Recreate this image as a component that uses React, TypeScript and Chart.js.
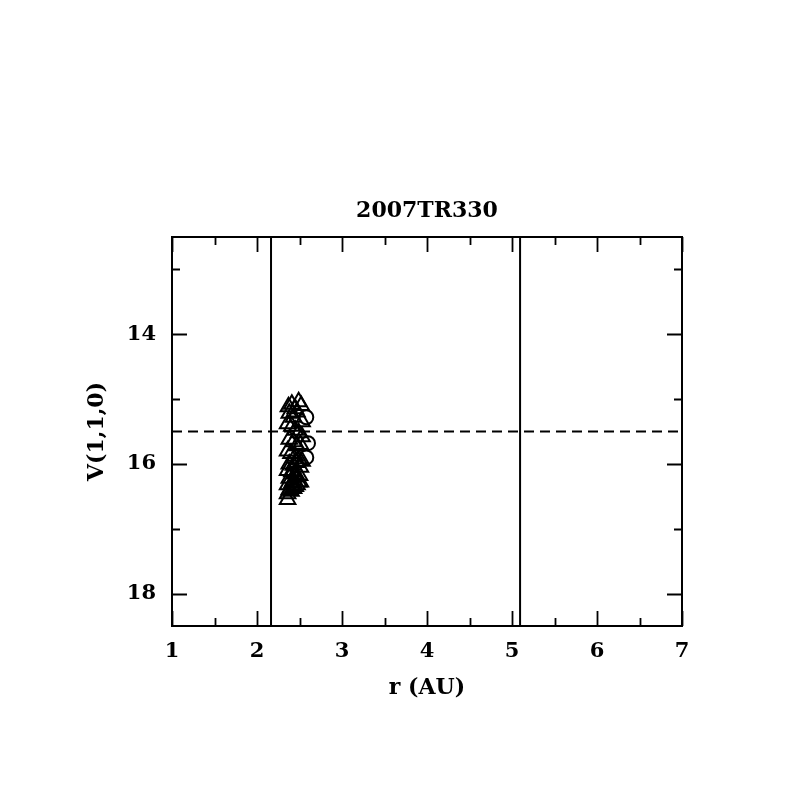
import React, { useEffect, useRef } from "react";
import { Chart, registerables } from "chart.js";

Chart.register(...registerables);

const TITLE = "2007TR330";
const X_TITLE = "r (AU)";
const Y_TITLE = "V(1,1,0)";
const X_MIN = 1;
const X_MAX = 7;
const Y_MIN = 12.5;
const Y_MAX = 18.5;
const X_MAJOR = [1, 2, 3, 4, 5, 6, 7];
const X_MINOR = [1.5, 2.5, 3.5, 4.5, 5.5, 6.5];
const Y_MAJOR = [14, 16, 18];
const Y_MINOR = [13, 15, 17];

const V_LINES = [2.165, 5.095];
const H_LINE = 15.5;

const triR = [2.37, 2.41, 2.45, 2.49, 2.52, 2.38, 2.43, 2.47, 2.53, 2.36, 2.41, 2.45, 2.49, 2.53, 2.38, 2.43, 2.47, 2.51, 2.36, 2.40, 2.45, 2.49, 2.53, 2.38, 2.43, 2.47, 2.51, 2.36, 2.41, 2.45, 2.50, 2.38, 2.43, 2.47, 2.51, 2.36, 2.41, 2.45, 2.49, 2.38, 2.43, 2.47, 2.36, 2.40, 2.36];
const triV = [15.12, 15.08, 15.15, 15.04, 15.10, 15.22, 15.28, 15.20, 15.35, 15.38, 15.42, 15.48, 15.52, 15.58, 15.62, 15.66, 15.72, 15.70, 15.80, 15.84, 15.88, 15.92, 15.96, 16.00, 16.02, 15.98, 16.05, 16.10, 16.12, 16.15, 16.18, 16.22, 16.25, 16.20, 16.28, 16.32, 16.30, 16.35, 16.28, 16.40, 16.38, 16.32, 16.46, 16.42, 16.55];
const circR = [2.58, 2.60, 2.58];
const circV = [15.28, 15.68, 15.90];

const FONT = "'DejaVu Serif', serif";

const framePlugin = {
  id: "frame",
  afterDatasetsDraw(chart: any) {
    const { ctx, chartArea, scales } = chart;
    const { left, right, top, bottom } = chartArea;
    const xs = scales.x;
    const ys = scales.y;
    ctx.save();
    ctx.strokeStyle = "#000";
    ctx.lineWidth = 2;
    ctx.strokeRect(left, top, right - left, bottom - top);
    ctx.lineWidth = 1.8;
    ctx.beginPath();
    const xt = (vals: number[], len: number) => {
      vals.forEach((v) => {
        const px = Math.round(xs.getPixelForValue(v)) + 0.5;
        ctx.moveTo(px, bottom);
        ctx.lineTo(px, bottom - len);
        ctx.moveTo(px, top);
        ctx.lineTo(px, top + len);
      });
    };
    const yt = (vals: number[], len: number) => {
      vals.forEach((v) => {
        const py = Math.round(ys.getPixelForValue(v)) + 0.5;
        ctx.moveTo(left, py);
        ctx.lineTo(left + len, py);
        ctx.moveTo(right, py);
        ctx.lineTo(right - len, py);
      });
    };
    xt(X_MAJOR, 15);
    xt(X_MINOR, 8);
    yt(Y_MAJOR, 15);
    yt(Y_MINOR, 8);
    ctx.stroke();
    ctx.fillStyle = "#000";
    ctx.font = "bold 22px " + FONT;
    ctx.textAlign = "center";
    ctx.textBaseline = "middle";
    ctx.fillText(TITLE, (left + right) / 2, top - 26);
    ctx.restore();
  },
};

export default function App() {
  const ref = useRef<HTMLCanvasElement>(null);
  useEffect(() => {
    if (!ref.current) return;
    const chart = new Chart(ref.current, {
      type: "scatter",
      data: {
        datasets: [
          {
            label: "tri",
            data: triR.map((r, i) => ({ x: r, y: triV[i] })),
            pointStyle: "triangle",
            pointRadius: 9,
            borderColor: "#000",
            backgroundColor: "rgba(0,0,0,0)",
            borderWidth: 2,
          },
          {
            label: "circ",
            data: circR.map((r, i) => ({ x: r, y: circV[i] })),
            pointStyle: "circle",
            pointRadius: 7,
            borderColor: "#000",
            backgroundColor: "rgba(0,0,0,0)",
            borderWidth: 2,
          },
          ...V_LINES.map((v) => ({
            type: "line" as const,
            label: "v" + v,
            data: [
              { x: v, y: Y_MIN },
              { x: v, y: Y_MAX },
            ],
            borderColor: "#000",
            borderWidth: 2,
            pointRadius: 0,
            showLine: true,
          })),
          {
            type: "line" as const,
            label: "h",
            data: [
              { x: X_MIN, y: H_LINE },
              { x: X_MAX, y: H_LINE },
            ],
            borderColor: "#000",
            borderWidth: 2,
            borderDash: [10, 6],
            pointRadius: 0,
            showLine: true,
          },
        ] as any,
      },
      options: {
        animation: false,
        responsive: false,
        maintainAspectRatio: false,
        layout: { padding: { left: 80, right: 115, top: 237, bottom: 80 } },
        plugins: {
          legend: { display: false },
          tooltip: { enabled: false },
          title: { display: false },
        },
        scales: {
          x: {
            type: "linear",
            min: X_MIN,
            max: X_MAX,
            afterFit: (s: any) => {
              s.height = 797 - 80 - 626;
            },
            afterBuildTicks: (s: any) => {
              s.ticks = X_MAJOR.map((v) => ({ value: v }));
            },
            grid: { display: false, drawTicks: false },
            border: { display: false },
            ticks: {
              color: "#000",
              padding: 13,
              font: { family: FONT, size: 21, weight: "bold" },
              callback: (v: any) => String(v),
            },
            title: {
              display: true,
              text: X_TITLE,
              color: "#000",
              font: { family: FONT, size: 22, weight: "bold" },
              padding: { top: 0, bottom: 16 },
            },
          },
          y: {
            type: "linear",
            min: Y_MIN,
            max: Y_MAX,
            reverse: true,
            afterFit: (s: any) => {
              s.width = 172 - 80;
            },
            afterBuildTicks: (s: any) => {
              s.ticks = Y_MAJOR.map((v) => ({ value: v }));
            },
            grid: { display: false, drawTicks: false },
            border: { display: false },
            ticks: {
              color: "#000",
              padding: 16,
              font: { family: FONT, size: 21, weight: "bold" },
              callback: (v: any) => String(v),
            },
            title: {
              display: true,
              text: Y_TITLE,
              color: "#000",
              font: { family: FONT, size: 22, weight: "bold" },
              padding: { top: 4, bottom: 0 },
            },
          },
        },
      },
      plugins: [framePlugin],
    });
    return () => chart.destroy();
  }, []);
  return (
    <div style={{ position: "absolute", left: 0, top: 0, width: 797, height: 797, background: "#fff" }}>
      <canvas ref={ref} width={797} height={797} style={{ width: 797, height: 797 }} />
    </div>
  );
}
